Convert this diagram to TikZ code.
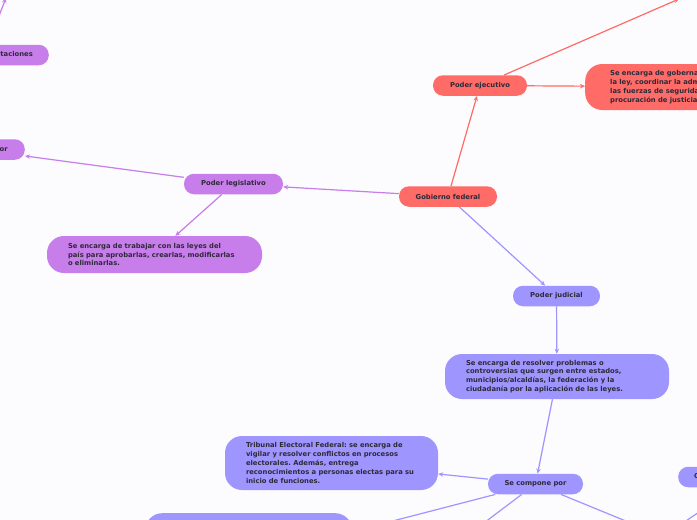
\documentclass[tikz,border=0pt]{standalone}
\usepackage{fontspec}
\setmainfont{DejaVu Sans}
\usetikzlibrary{arrows.meta}
\definecolor{gobred}{HTML}{FF6B66}
\definecolor{legpurple}{HTML}{C77DEA}
\definecolor{judblue}{HTML}{9F95FF}
\definecolor{inktext}{HTML}{2E2A3A}
\definecolor{paper}{HTML}{FCFBFD}
\frenchspacing

\begin{document}
\begin{tikzpicture}[x=1pt, y=-1pt,
  pill/.style={rectangle, rounded corners=10pt, minimum height=20.5pt, inner xsep=16pt,
               inner ysep=0pt, font=\bfseries\fontsize{6.8}{8.8}\selectfont, text=inktext},
  desc/.style={rectangle, rounded corners=17pt, inner xsep=21pt, inner ysep=0pt, align=left,
               font=\bfseries\fontsize{6.8}{8.8}\selectfont, text=inktext},
  link/.style={-{Stealth[length=5pt,width=4.5pt]}, line width=1.2pt}
]
  \useasboundingbox (0,0) rectangle (697,520);
  \fill[paper] (0,0) rectangle (697,520);
  \clip (0,0) rectangle (697,520);

  \node[pill, fill=gobred, minimum width=98pt] (gob) at (448,196.5) {Gobierno federal};
  \node[pill, fill=gobred, minimum width=94pt] (exe) at (480,85.5) {Poder ejecutivo};
  \node[desc, fill=gobred, inner xsep=25pt, text width=215pt, minimum height=46pt, anchor=west] (exedesc) at (585,87)
    {Se encarga de gobernar y aplicar\\la ley, coordinar la administración pública,\\las fuerzas de seguridad y la\\procuración de justicia.};
  \coordinate (exetop) at (679,-1);

  \node[pill, fill=legpurple, minimum width=99pt] (leg) at (233.5,184) {Poder legislativo};
  \node[desc, fill=legpurple, text width=173pt, minimum height=37pt] (legdesc) at (154.5,254.5)
    {Se encarga de trabajar con las leyes del\\país para aprobarlas, crearlas, modificarlas\\o eliminarlas.};
  \node[pill, fill=legpurple, minimum width=96pt, anchor=east] (legcomp) at (25,149.5) {Se compone por};
  \node[pill, fill=legpurple, anchor=east] (legcam) at (49,55) {Diputaciones};
  \coordinate (legA) at (-5,26);
  \coordinate (legB) at (6,-2);

  \node[pill, fill=judblue, minimum width=87pt] (jud) at (556.5,296) {Poder judicial};
  \node[desc, fill=judblue, text width=182pt, minimum height=45pt] (juddesc) at (557,376.5)
    {Se encarga de resolver problemas o\\controversias que surgen entre estados,\\municipios/alcaldías, la federación y la\\ciudadanía por la aplicación de las leyes.};
  \node[pill, fill=judblue, minimum width=95pt] (judcomp) at (535.5,484) {Se compone por};
  \node[desc, fill=judblue, text width=171pt, minimum height=54pt] (tribunal) at (331.5,463)
    {Tribunal Electoral Federal: se encarga de\\vigilar y resolver conflictos en procesos\\electorales. Además, entrega\\reconocimientos a personas electas para su\\inicio de funciones.};
  \node[desc, fill=judblue, text width=165pt, minimum height=90pt, anchor=north west] (suprema) at (145,513)
    {Suprema Corte de Justicia de la Nación};
  \node[pill, fill=judblue, anchor=west] (consejo) at (678,477) {Consejo de la Judicatura Federal};
  \coordinate (judA) at (464,538);
  \coordinate (judB) at (660,535);
  \coordinate (brA) at (705,508);
  \coordinate (brB) at (680,525);

  \draw[link, gobred] (gob) -- (exe);
  \draw[link, gobred] (exe) -- (exedesc);
  \draw[link, gobred] (exe) -- (exetop);
  \draw[link, legpurple] (gob) -- (leg);
  \draw[link, legpurple] (leg) -- (legdesc);
  \draw[link, legpurple] (leg) -- (legcomp);
  \draw[link, legpurple] (legA) -- (legB);
  \draw[link, judblue] (gob) -- (jud);
  \draw[link, judblue] (jud) -- (juddesc);
  \draw[link, judblue] (juddesc) -- (judcomp);
  \draw[link, judblue] (judcomp) -- (tribunal);
  \draw[link, judblue] (judcomp) -- (suprema);
  \draw[link, judblue] (judcomp) -- (judA);
  \draw[link, judblue] (judcomp) -- (judB);
  \draw[link, judblue] (brA) -- (brB);
\end{tikzpicture}
\end{document}
